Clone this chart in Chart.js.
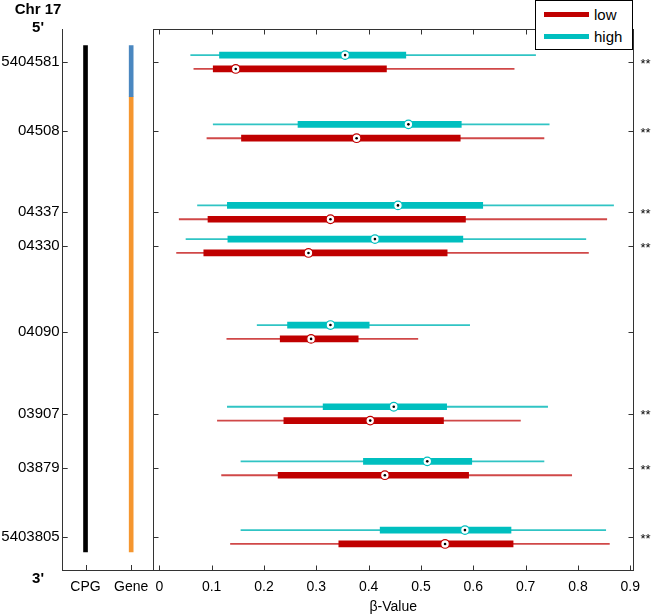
<!DOCTYPE html>
<html>
<head>
<meta charset="utf-8">
<script src="https://cdn.jsdelivr.net/npm/chart.js@4"></script>
<style>
  body { margin: 0; background: #fff; }
  #figure { position: relative; width: 651px; height: 616px; font-family: "Liberation Sans", Arial, sans-serif; color: #000; }
  #figure canvas { position: absolute; left: 0; top: 0; }
  .tag { position: absolute; font-weight: bold; font-size: 15px; line-height: 1; transform: translate(-50%, -50%); white-space: nowrap; }
  #legend { position: absolute; left: 535px; top: 0; width: 98px; height: 50px; box-sizing: border-box; border: 1px solid #000; background: #fff; }
  .legend-row { position: absolute; left: 8px; height: 18px; display: flex; align-items: center; font-size: 15px; }
  .swatch { width: 45px; height: 5px; margin-right: 5px; }
</style>
</head>
<body>
<div id="figure">
  <canvas id="trackChart" width="160" height="616"></canvas>
  <canvas id="betaChart" width="651" height="616"></canvas>
  <div class="tag" style="left:38px;top:8px">Chr 17</div>
  <div class="tag" style="left:38px;top:26px">5'</div>
  <div class="tag" style="left:38px;top:577px">3'</div>
  <div id="legend"></div>
</div>
<script>
// row positions along the chromosome (axis runs 0 at 5' to 100 at 3')
const rowLabels = ["5404581", "04508", "04337", "04330", "04090", "03907", "03879", "5403805"];
const rowPos = [6.05, 18.86, 33.85, 40.08, 55.98, 71.09, 81.19, 93.9];
const sigMarks = ["**", "**", "**", "**", "", "**", "**", "**"];
const xTicks = [0, 0.1, 0.2, 0.3, 0.4, 0.5, 0.6, 0.7, 0.8, 0.9];

const trackNames = ["CPG", "Gene"];
const cpgSpan = [3.03, 96.67];
const geneSpans = [[3.03, 12.47], [12.47, 96.67]];

const seriesNames = ["low", "high"];

const highMin = [0.060, 0.103, 0.073, 0.051, 0.187, 0.130, 0.156, 0.156];
const highQ1 = [0.115, 0.265, 0.130, 0.131, 0.245, 0.313, 0.390, 0.422];
const highMed = [0.355, 0.476, 0.456, 0.412, 0.327, 0.448, 0.512, 0.584];
const highQ3 = [0.471, 0.577, 0.618, 0.580, 0.401, 0.549, 0.597, 0.672];
const highMax = [0.719, 0.745, 0.868, 0.815, 0.593, 0.742, 0.735, 0.853];

const lowMin = [0.066, 0.091, 0.038, 0.033, 0.129, 0.111, 0.119, 0.136];
const lowQ1 = [0.103, 0.157, 0.093, 0.085, 0.231, 0.238, 0.227, 0.343];
const lowMed = [0.146, 0.377, 0.327, 0.285, 0.290, 0.403, 0.431, 0.546];
const lowQ3 = [0.434, 0.575, 0.585, 0.550, 0.380, 0.543, 0.591, 0.676];
const lowMax = [0.678, 0.735, 0.855, 0.820, 0.494, 0.690, 0.788, 0.860];

const lowColor = "#c00000";
const highColor = "#00bfbf";
const lowThin = "#d04848";
const highThin = "#30c4c4";
const geneColors = ["#4a87c0", "#f5962f"];
const axisColor = "#333";
const tickLen = 5;
const pairGap = 1.28;

Chart.defaults.font.family = "'Liberation Sans', Arial, sans-serif";
Chart.defaults.color = "#000";

// legend
const legendColors = { low: lowColor, high: highColor };
seriesNames.forEach((name, i) => {
  const row = document.createElement("div");
  row.className = "legend-row";
  row.style.top = (i === 0 ? 4.3 : 26) + "px";
  row.innerHTML = '<span class="swatch" style="background:' + legendColors[name] + '"></span>' + name;
  document.getElementById("legend").appendChild(row);
});

const trackTicks = {
  id: "trackTicks",
  afterDraw(chart) {
    const { ctx, chartArea: a, scales } = chart;
    ctx.save();
    ctx.strokeStyle = axisColor;
    ctx.lineWidth = 1;
    ctx.beginPath();
    rowPos.forEach((v) => {
      const y = Math.round(scales.y.getPixelForValue(v)) + 0.5;
      ctx.moveTo(a.left, y);
      ctx.lineTo(a.left + tickLen, y);
    });
    trackNames.forEach((n, i) => {
      const x = Math.round(scales.x.getPixelForValue(i)) + 0.5;
      ctx.moveTo(x, a.bottom);
      ctx.lineTo(x, a.bottom - tickLen);
    });
    ctx.stroke();
    ctx.restore();
  },
};

const frame = {
  id: "frame",
  afterDraw(chart) {
    const { ctx, chartArea: a, scales } = chart;
    const l = Math.round(a.left) + 0.5;
    const r = Math.round(a.right) + 0.5;
    const t = Math.round(a.top) + 0.5;
    const b = Math.round(a.bottom) + 0.5;
    ctx.save();
    ctx.strokeStyle = axisColor;
    ctx.lineWidth = 1;
    ctx.strokeRect(l, t, r - l, b - t);
    ctx.beginPath();
    xTicks.forEach((v) => {
      const x = Math.round(scales.x.getPixelForValue(v)) + 0.5;
      ctx.moveTo(x, b);
      ctx.lineTo(x, b - tickLen);
      ctx.moveTo(x, t);
      ctx.lineTo(x, t + tickLen);
    });
    rowPos.forEach((v) => {
      const y = Math.round(scales.y.getPixelForValue(v)) + 0.5;
      ctx.moveTo(l, y);
      ctx.lineTo(l + tickLen, y);
      ctx.moveTo(r, y);
      ctx.lineTo(r - tickLen, y);
    });
    ctx.stroke();
    ctx.fillStyle = "#000";
    ctx.font = "13px 'Liberation Sans', Arial, sans-serif";
    ctx.textBaseline = "middle";
    rowPos.forEach((v, i) => {
      if (sigMarks[i]) ctx.fillText(sigMarks[i], r + 7, scales.y.getPixelForValue(v) + 2);
    });
    ctx.restore();
  },
};

new Chart(document.getElementById("trackChart"), {
  type: "bar",
  data: {
    labels: trackNames,
    datasets: [
      { data: [cpgSpan, null], backgroundColor: "#000" },
      { data: [null, geneSpans[0]], backgroundColor: geneColors[0] },
      { data: [null, geneSpans[1]], backgroundColor: geneColors[1] },
    ],
  },
  options: {
    responsive: false,
    animation: false,
    events: [],
    layout: { padding: { top: 29.3, right: 6, left: 0, bottom: 0 } },
    datasets: { bar: { grouped: false, barThickness: 4 } },
    plugins: { legend: { display: false }, tooltip: { enabled: false } },
    scales: {
      x: {
        grid: { display: false, drawTicks: false },
        border: { color: axisColor },
        ticks: { font: { size: 14 }, padding: 9, color: "#000" },
        afterFit: (s) => { s.height = 46; },
      },
      y: {
        min: 0,
        max: 100,
        reverse: true,
        grid: { display: false, drawTicks: false },
        border: { color: axisColor },
        afterBuildTicks: (s) => { s.ticks = rowPos.map((v) => ({ value: v })); },
        ticks: {
          callback: (v, i) => rowLabels[i],
          font: { size: 15 },
          padding: 3,
          color: "#000",
          autoSkip: false,
        },
        afterFit: (s) => { s.width = 62.7; },
      },
    },
  },
  plugins: [trackTicks],
});

function spanData(lo, hi, shift) {
  return rowPos.map((p, i) => ({ x: [lo[i], hi[i]], y: p + shift }));
}
function pointData(vals, shift) {
  return rowPos.map((p, i) => ({ x: vals[i], y: p + shift }));
}

new Chart(document.getElementById("betaChart"), {
  type: "scatter",
  data: {
    datasets: [
      { data: pointData(highMed, -pairGap), pointRadius: 1.3, pointBackgroundColor: "#000", pointBorderWidth: 0, order: 0 },
      { data: pointData(lowMed, pairGap), pointRadius: 1.3, pointBackgroundColor: "#000", pointBorderWidth: 0, order: 0 },
      { data: pointData(highMed, -pairGap), pointRadius: 4.3, pointBackgroundColor: "#fff", pointBorderColor: highColor, pointBorderWidth: 1.2, order: 1 },
      { data: pointData(lowMed, pairGap), pointRadius: 4.3, pointBackgroundColor: "#fff", pointBorderColor: lowColor, pointBorderWidth: 1.2, order: 1 },
      { type: "bar", indexAxis: "y", label: "high", data: spanData(highQ1, highQ3, -pairGap), backgroundColor: highColor, barThickness: 6, grouped: false, order: 2 },
      { type: "bar", indexAxis: "y", label: "low", data: spanData(lowQ1, lowQ3, pairGap), backgroundColor: lowColor, barThickness: 6, grouped: false, order: 2 },
      { type: "bar", indexAxis: "y", data: spanData(highMin, highMax, -pairGap), backgroundColor: highThin, barThickness: 1.2, grouped: false, order: 3 },
      { type: "bar", indexAxis: "y", data: spanData(lowMin, lowMax, pairGap), backgroundColor: lowThin, barThickness: 1.2, grouped: false, order: 3 },
    ],
  },
  options: {
    responsive: false,
    animation: false,
    events: [],
    layout: { padding: { left: 153.3, top: 29.3, right: 17.7, bottom: 0 } },
    plugins: { legend: { display: false }, tooltip: { enabled: false } },
    scales: {
      x: {
        type: "linear",
        min: -0.0115,
        max: 0.9057,
        offset: false,
        grid: { display: false, drawTicks: false },
        border: { display: false },
        afterBuildTicks: (s) => { s.ticks = xTicks.map((v) => ({ value: v })); },
        ticks: {
          callback: (v) => String(Math.round(v * 10) / 10),
          font: { size: 14 },
          padding: 9,
          color: "#000",
          autoSkip: false,
          maxRotation: 0,
        },
        title: { display: true, text: "β-Value", font: { size: 14 }, padding: { top: 0, bottom: 0 }, color: "#000" },
        afterFit: (s) => { s.height = 46; },
      },
      y: { type: "linear", display: false, min: 0, max: 100, reverse: true, offset: false },
    },
  },
  plugins: [frame],
});
</script>
</body>
</html>
